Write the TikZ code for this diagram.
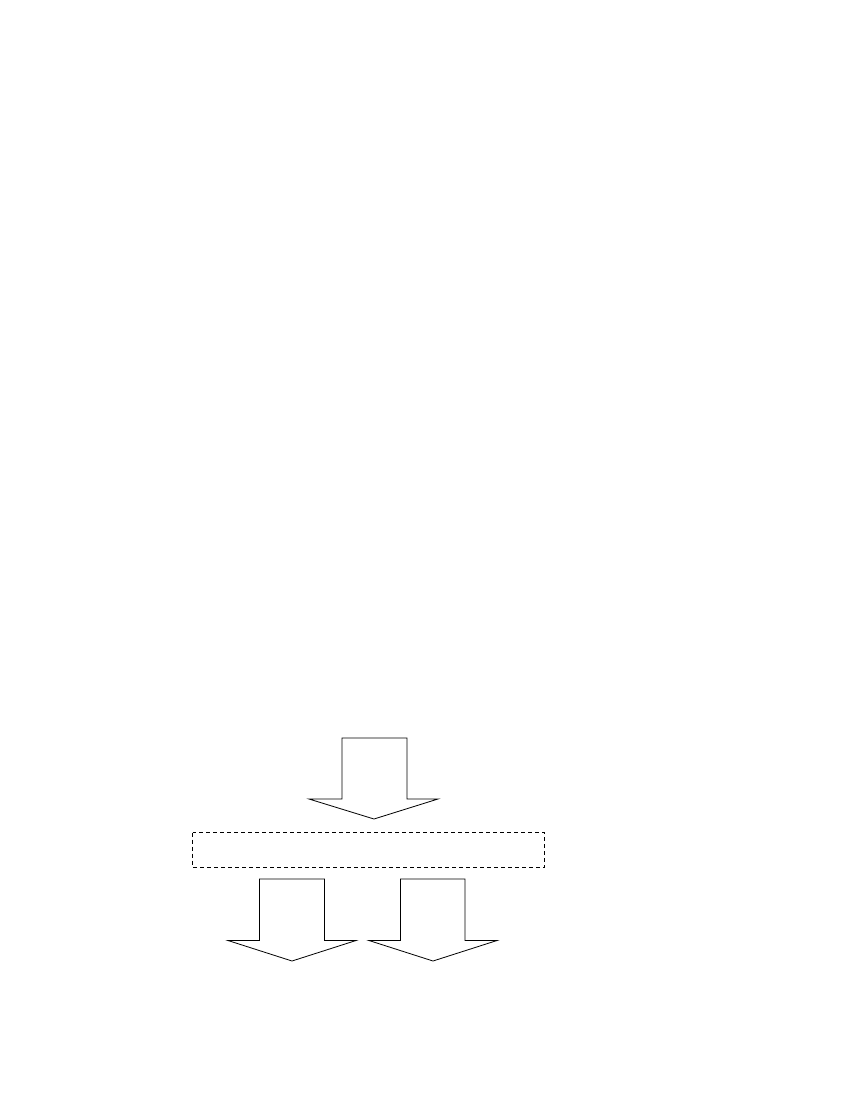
\documentclass[tikz,border=0pt]{standalone}
\begin{document}
\begin{tikzpicture}[x=1pt,y=-1pt,
  fatarrow/.style={draw=black,line width=0.8pt,line join=miter,fill=white},
  dashbox/.style={draw=black,line width=0.8pt,dash pattern=on 4pt off 3pt}]
\useasboundingbox (0,0) rectangle (850,1100);
% top arrow
\draw[fatarrow] (342,738) -- (407,738) -- (407,799) -- (438,799) -- (374,819) -- (309,799) -- (342,799) -- cycle;
% dashed box
\draw[dashbox] (192.5,832.5) rectangle (544.5,867);
\coordinate (boxc) at (368.5,850);
% bottom left arrow
\draw[fatarrow] (259.5,879) -- (324.5,879) -- (324.5,940.5) -- (356,940.5) -- (292,961) -- (228,940.5) -- (259.5,940.5) -- cycle;
% bottom right arrow
\draw[fatarrow] (400.5,879) -- (465,879) -- (465,940.5) -- (497,940.5) -- (433,961) -- (369,940.5) -- (400.5,940.5) -- cycle;
\end{tikzpicture}
\end{document}
